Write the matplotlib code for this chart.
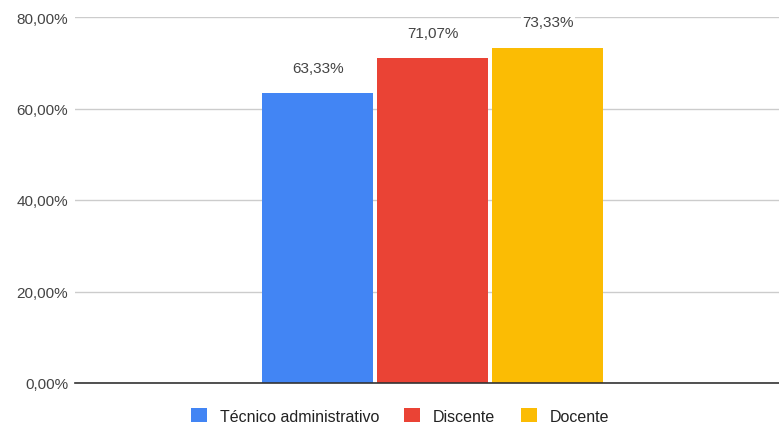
import numpy as np
import matplotlib.pyplot as plt

# data
categorias = ['Técnico administrativo', 'Discente', 'Docente']
valores = [63.33, 71.07, 73.33]
cores = ['#4285F4', '#EA4335', '#FBBC04']
yticks = [0, 20, 40, 60, 80]

plt.rcParams['font.family'] = ['Liberation Sans', 'DejaVu Sans']

fig = plt.figure(figsize=(7.79, 4.27), dpi=100)
ax = fig.add_axes([75/779, 1 - 384/427, 1 - 75/779, (384 - 18)/427])

pos = np.arange(len(categorias)) - 1
for x, v, c, lab in zip(pos, valores, cores, categorias):
    ax.bar(x, v, width=0.965, color=c, label=lab, zorder=3)
    ax.text(x, v + 4.0, f'{v:.2f}%'.replace('.', ','), ha='center', va='bottom',
            fontsize=11, color='#444444', zorder=5,
            bbox=dict(facecolor='white', edgecolor='none', pad=1))

ax.set_xlim(-3.113, 3.009)
ax.set_ylim(0, 80)
ax.set_yticks(yticks)
ax.set_yticklabels([f'{t:.2f}%'.replace('.', ',') for t in yticks], fontsize=11, color='#444444')
ax.set_xticks([])
ax.tick_params(axis='y', length=0, pad=5)
ax.grid(axis='y', color='#cccccc', linewidth=1, zorder=0)
for s in ['top', 'right', 'left']:
    ax.spines[s].set_visible(False)
ax.spines['bottom'].set_color('#333333')
ax.spines['bottom'].set_linewidth(1.2)
ax.spines['bottom'].set_zorder(4)

leg = fig.legend(loc='center', bbox_to_anchor=(400/779, 1 - 417/427), ncol=3, frameon=False,
                 fontsize=11.5, handlelength=1.0, handleheight=1.0, handletextpad=0.8,
                 columnspacing=1.6)
for t in leg.get_texts():
    t.set_color('#222222')

fig.savefig('out.png', dpi=100)
